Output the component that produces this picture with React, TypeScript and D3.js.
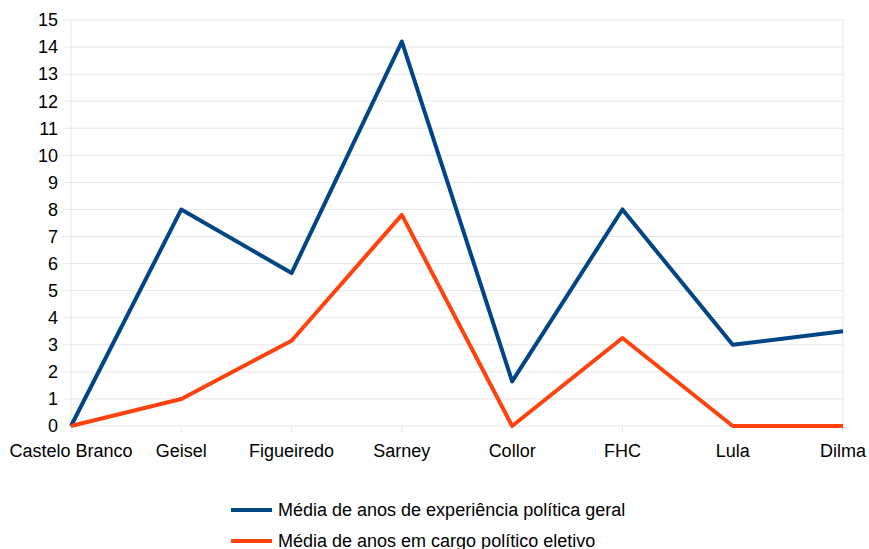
import React from "react";
import * as d3 from "d3";

const categories = ["Castelo Branco", "Geisel", "Figueiredo", "Sarney", "Collor", "FHC", "Lula", "Dilma"];
const seriesGeral = [0, 8, 5.65, 14.2, 1.65, 8, 3, 3.5];
const seriesEletivo = [0, 1, 3.15, 7.8, 0, 3.25, 0, 0];
const seriesNames = ["Média de anos de experiência política geral", "Média de anos em cargo político eletivo"];
const colors = ["#004586", "#ff420e"];
const yTicks = d3.range(0, 16);

export default function App() {
  const W = 869, H = 549;
  const left = 71, right = 843, top = 20, bottom = 426;
  const x = d3.scalePoint<string>().domain(categories).range([left, right]);
  const y = d3.scaleLinear().domain([0, 15]).range([bottom, top]);
  const line = d3.line<number>().x((_, i) => x(categories[i])!).y(d => y(d));
  const font = "'Liberation Sans', Arial, sans-serif";
  return (
    <svg width={W} height={H} style={{ position: "absolute", left: 0, top: 0 }} fontFamily={font}>
      <rect width={W} height={H} fill="#fff" />
      {yTicks.map(t => (
        <g key={t}>
          <line x1={left - 8} x2={right} y1={y(t)} y2={y(t)} stroke="#e6e6e6" strokeWidth={1} />
          <text x={58} y={y(t)} dy="0.35em" textAnchor="end" fontSize={18} fill="#000">{t}</text>
        </g>
      ))}
      <line x1={left} x2={left} y1={top} y2={bottom + 6} stroke="#e6e6e6" />
      <line x1={right} x2={right} y1={top} y2={bottom + 6} stroke="#e6e6e6" />
      {categories.map(c => (
        <g key={c}>
          <line x1={x(c)!} x2={x(c)!} y1={bottom} y2={bottom + 6} stroke="#e6e6e6" />
          <text x={x(c)!} y={457} textAnchor="middle" fontSize={18} fill="#000">{c}</text>
        </g>
      ))}
      <path d={line(seriesGeral)!} fill="none" stroke={colors[0]} strokeWidth={4} strokeLinejoin="round" />
      <path d={line(seriesEletivo)!} fill="none" stroke={colors[1]} strokeWidth={4} strokeLinejoin="round" />
      {seriesNames.map((n, i) => (
        <g key={n}>
          <line x1={231} x2={272} y1={510 + i * 31} y2={510 + i * 31} stroke={colors[i]} strokeWidth={4} />
          <text x={278} y={510 + i * 31} dy="0.35em" fontSize={18} fill="#000">{n}</text>
        </g>
      ))}
    </svg>
  );
}
